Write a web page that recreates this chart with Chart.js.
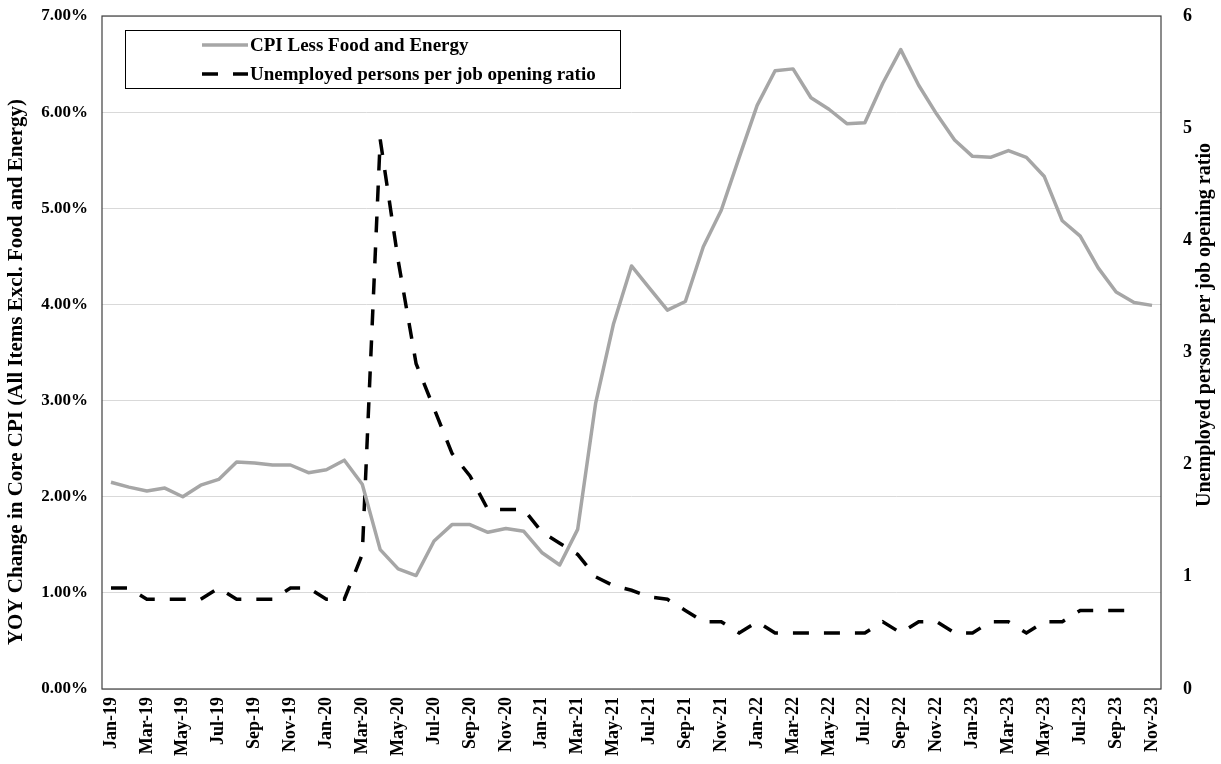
<!DOCTYPE html>
<html lang="en">
<head>
    <meta charset="UTF-8">
    <title>Core CPI vs Unemployed per Job Opening</title>
    <style>
        html, body { margin: 0; padding: 0; background: #fff; }
        #wrap { width: 1221px; height: 764px; position: relative; }
    </style>
</head>
<body>
    <div id="wrap">
        <canvas id="chart" width="1221" height="764"></canvas>
    </div>

    <script src="https://cdn.jsdelivr.net/npm/chart.js"></script>
    <script>
        // months on the x axis
        const months = [
            'Jan-19','Feb-19','Mar-19','Apr-19','May-19','Jun-19','Jul-19','Aug-19','Sep-19','Oct-19','Nov-19','Dec-19',
            'Jan-20','Feb-20','Mar-20','Apr-20','May-20','Jun-20','Jul-20','Aug-20','Sep-20','Oct-20','Nov-20','Dec-20',
            'Jan-21','Feb-21','Mar-21','Apr-21','May-21','Jun-21','Jul-21','Aug-21','Sep-21','Oct-21','Nov-21','Dec-21',
            'Jan-22','Feb-22','Mar-22','Apr-22','May-22','Jun-22','Jul-22','Aug-22','Sep-22','Oct-22','Nov-22','Dec-22',
            'Jan-23','Feb-23','Mar-23','Apr-23','May-23','Jun-23','Jul-23','Aug-23','Sep-23','Oct-23','Nov-23'
        ];

        // YOY core CPI, percent (left axis)
        const coreCpi = [
            2.15, 2.10, 2.06, 2.09, 2.00, 2.12, 2.18, 2.36, 2.35, 2.33, 2.33, 2.25,
            2.28, 2.38, 2.13, 1.45, 1.25, 1.18, 1.54, 1.71, 1.71, 1.63, 1.67, 1.64,
            1.42, 1.29, 1.66, 2.97, 3.80, 4.40, 4.17, 3.94, 4.03, 4.60, 4.98, 5.53,
            6.07, 6.43, 6.45, 6.15, 6.03, 5.88, 5.89, 6.30, 6.65, 6.28, 5.98, 5.71,
            5.54, 5.53, 5.60, 5.53, 5.33, 4.87, 4.71, 4.38, 4.13, 4.02, 3.99
        ];

        // unemployed persons per job opening (right axis), no value yet for Nov-23
        const unempRatio = [
            0.9, 0.9, 0.8, 0.8, 0.8, 0.8, 0.9, 0.8, 0.8, 0.8, 0.9, 0.9,
            0.8, 0.8, 1.2, 4.9, 3.82, 2.9, 2.5, 2.1, 1.9, 1.6, 1.6, 1.6,
            1.4, 1.3, 1.2, 1.0, 0.92, 0.88, 0.82, 0.8, 0.7, 0.6, 0.6, 0.5,
            0.6, 0.5, 0.5, 0.5, 0.5, 0.5, 0.5, 0.6, 0.5, 0.6, 0.6, 0.5,
            0.5, 0.6, 0.6, 0.5, 0.6, 0.6, 0.7, 0.7, 0.7, 0.7, null
        ];

        const seriesNames = ['CPI Less Food and Energy', 'Unemployed persons per job opening ratio'];
        const leftTitle = 'YOY Change in Core CPI (All Items Excl. Food and Energy)';
        const rightTitle = 'Unemployed persons per job opening ratio';

        const FONT = '"Liberation Serif", "Times New Roman", serif';

        // frame around the plot, axis titles and the boxed legend
        const extras = {
            id: 'extras',
            afterDraw(chart) {
                const ctx = chart.ctx;
                const a = chart.chartArea;
                ctx.save();
                ctx.strokeStyle = '#404040';
                ctx.lineWidth = 1.2;
                ctx.strokeRect(a.left, a.top, a.right - a.left, a.bottom - a.top);

                ctx.fillStyle = '#000';
                ctx.textAlign = 'center';
                ctx.textBaseline = 'middle';

                ctx.save();
                ctx.translate(17, 372);
                ctx.rotate(-Math.PI / 2);
                ctx.font = 'bold 21px ' + FONT;
                ctx.fillText(leftTitle, 0, 0);
                ctx.restore();

                ctx.save();
                ctx.translate(1205, 325);
                ctx.rotate(-Math.PI / 2);
                ctx.font = 'bold 20px ' + FONT;
                ctx.fillText(rightTitle, 0, 0);
                ctx.restore();

                // legend box
                ctx.fillStyle = '#fff';
                ctx.fillRect(125, 30, 495, 58);
                ctx.strokeStyle = '#000';
                ctx.lineWidth = 1;
                ctx.strokeRect(125.5, 30.5, 495, 58);

                const rows = [45, 74];
                chart.data.datasets.forEach((ds, i) => {
                    ctx.beginPath();
                    ctx.setLineDash(ds.borderDash || []);
                    ctx.strokeStyle = ds.borderColor;
                    ctx.lineWidth = ds.borderWidth;
                    ctx.moveTo(202, rows[i]);
                    ctx.lineTo(248, rows[i]);
                    ctx.stroke();
                    ctx.setLineDash([]);
                    ctx.fillStyle = '#000';
                    ctx.textAlign = 'left';
                    ctx.font = 'bold 19px ' + FONT;
                    ctx.fillText(ds.label, 250, rows[i] + 1);
                });
                ctx.restore();
            }
        };

        // fixed axis boxes so the plot area sits where the original has it
        function fitY(width) {
            return s => { s.width = width; s.paddingTop = 0; s.paddingBottom = 0; };
        }

        new Chart(document.getElementById('chart'), {
            type: 'line',
            data: {
                labels: months,
                datasets: [{
                    label: seriesNames[0],
                    data: coreCpi,
                    yAxisID: 'y',
                    borderColor: '#a6a6a6',
                    borderWidth: 3.5,
                    borderJoinStyle: 'round',
                    pointRadius: 0,
                    tension: 0
                }, {
                    label: seriesNames[1],
                    data: unempRatio,
                    yAxisID: 'y1',
                    borderColor: '#000000',
                    borderWidth: 3.5,
                    borderDash: [16, 15],
                    pointRadius: 0,
                    tension: 0
                }]
            },
            options: {
                responsive: false,
                animation: false,
                devicePixelRatio: 1,
                layout: { padding: { top: 16, left: 0, right: 0, bottom: 0 } },
                plugins: {
                    legend: { display: false },
                    tooltip: { enabled: false }
                },
                scales: {
                    x: {
                        offset: true,
                        grid: { display: false, drawTicks: false },
                        border: { display: false },
                        ticks: {
                            autoSkip: false,
                            minRotation: 90,
                            maxRotation: 90,
                            padding: 8,
                            color: '#000',
                            font: { family: FONT, size: 18, weight: 'bold' },
                            callback: function (v, i) { return i % 2 === 0 ? this.getLabelForValue(v) : ''; }
                        },
                        afterFit: s => { s.height = 75; s.paddingLeft = 0; s.paddingRight = 0; }
                    },
                    y: {
                        position: 'left',
                        min: 0,
                        max: 7,
                        grid: { color: '#d9d9d9', lineWidth: 1, drawTicks: false },
                        border: { display: false },
                        ticks: {
                            stepSize: 1,
                            padding: 14,
                            color: '#000',
                            font: { family: FONT, size: 17, weight: 'bold' },
                            callback: v => v.toFixed(2) + '%'
                        },
                        afterFit: fitY(102)
                    },
                    y1: {
                        position: 'right',
                        min: 0,
                        max: 6,
                        grid: { display: false, drawTicks: false },
                        border: { display: false },
                        ticks: {
                            stepSize: 1,
                            padding: 22,
                            color: '#000',
                            font: { family: FONT, size: 18, weight: 'bold' }
                        },
                        afterFit: fitY(60)
                    }
                }
            },
            plugins: [extras]
        });
    </script>
</body>
</html>
